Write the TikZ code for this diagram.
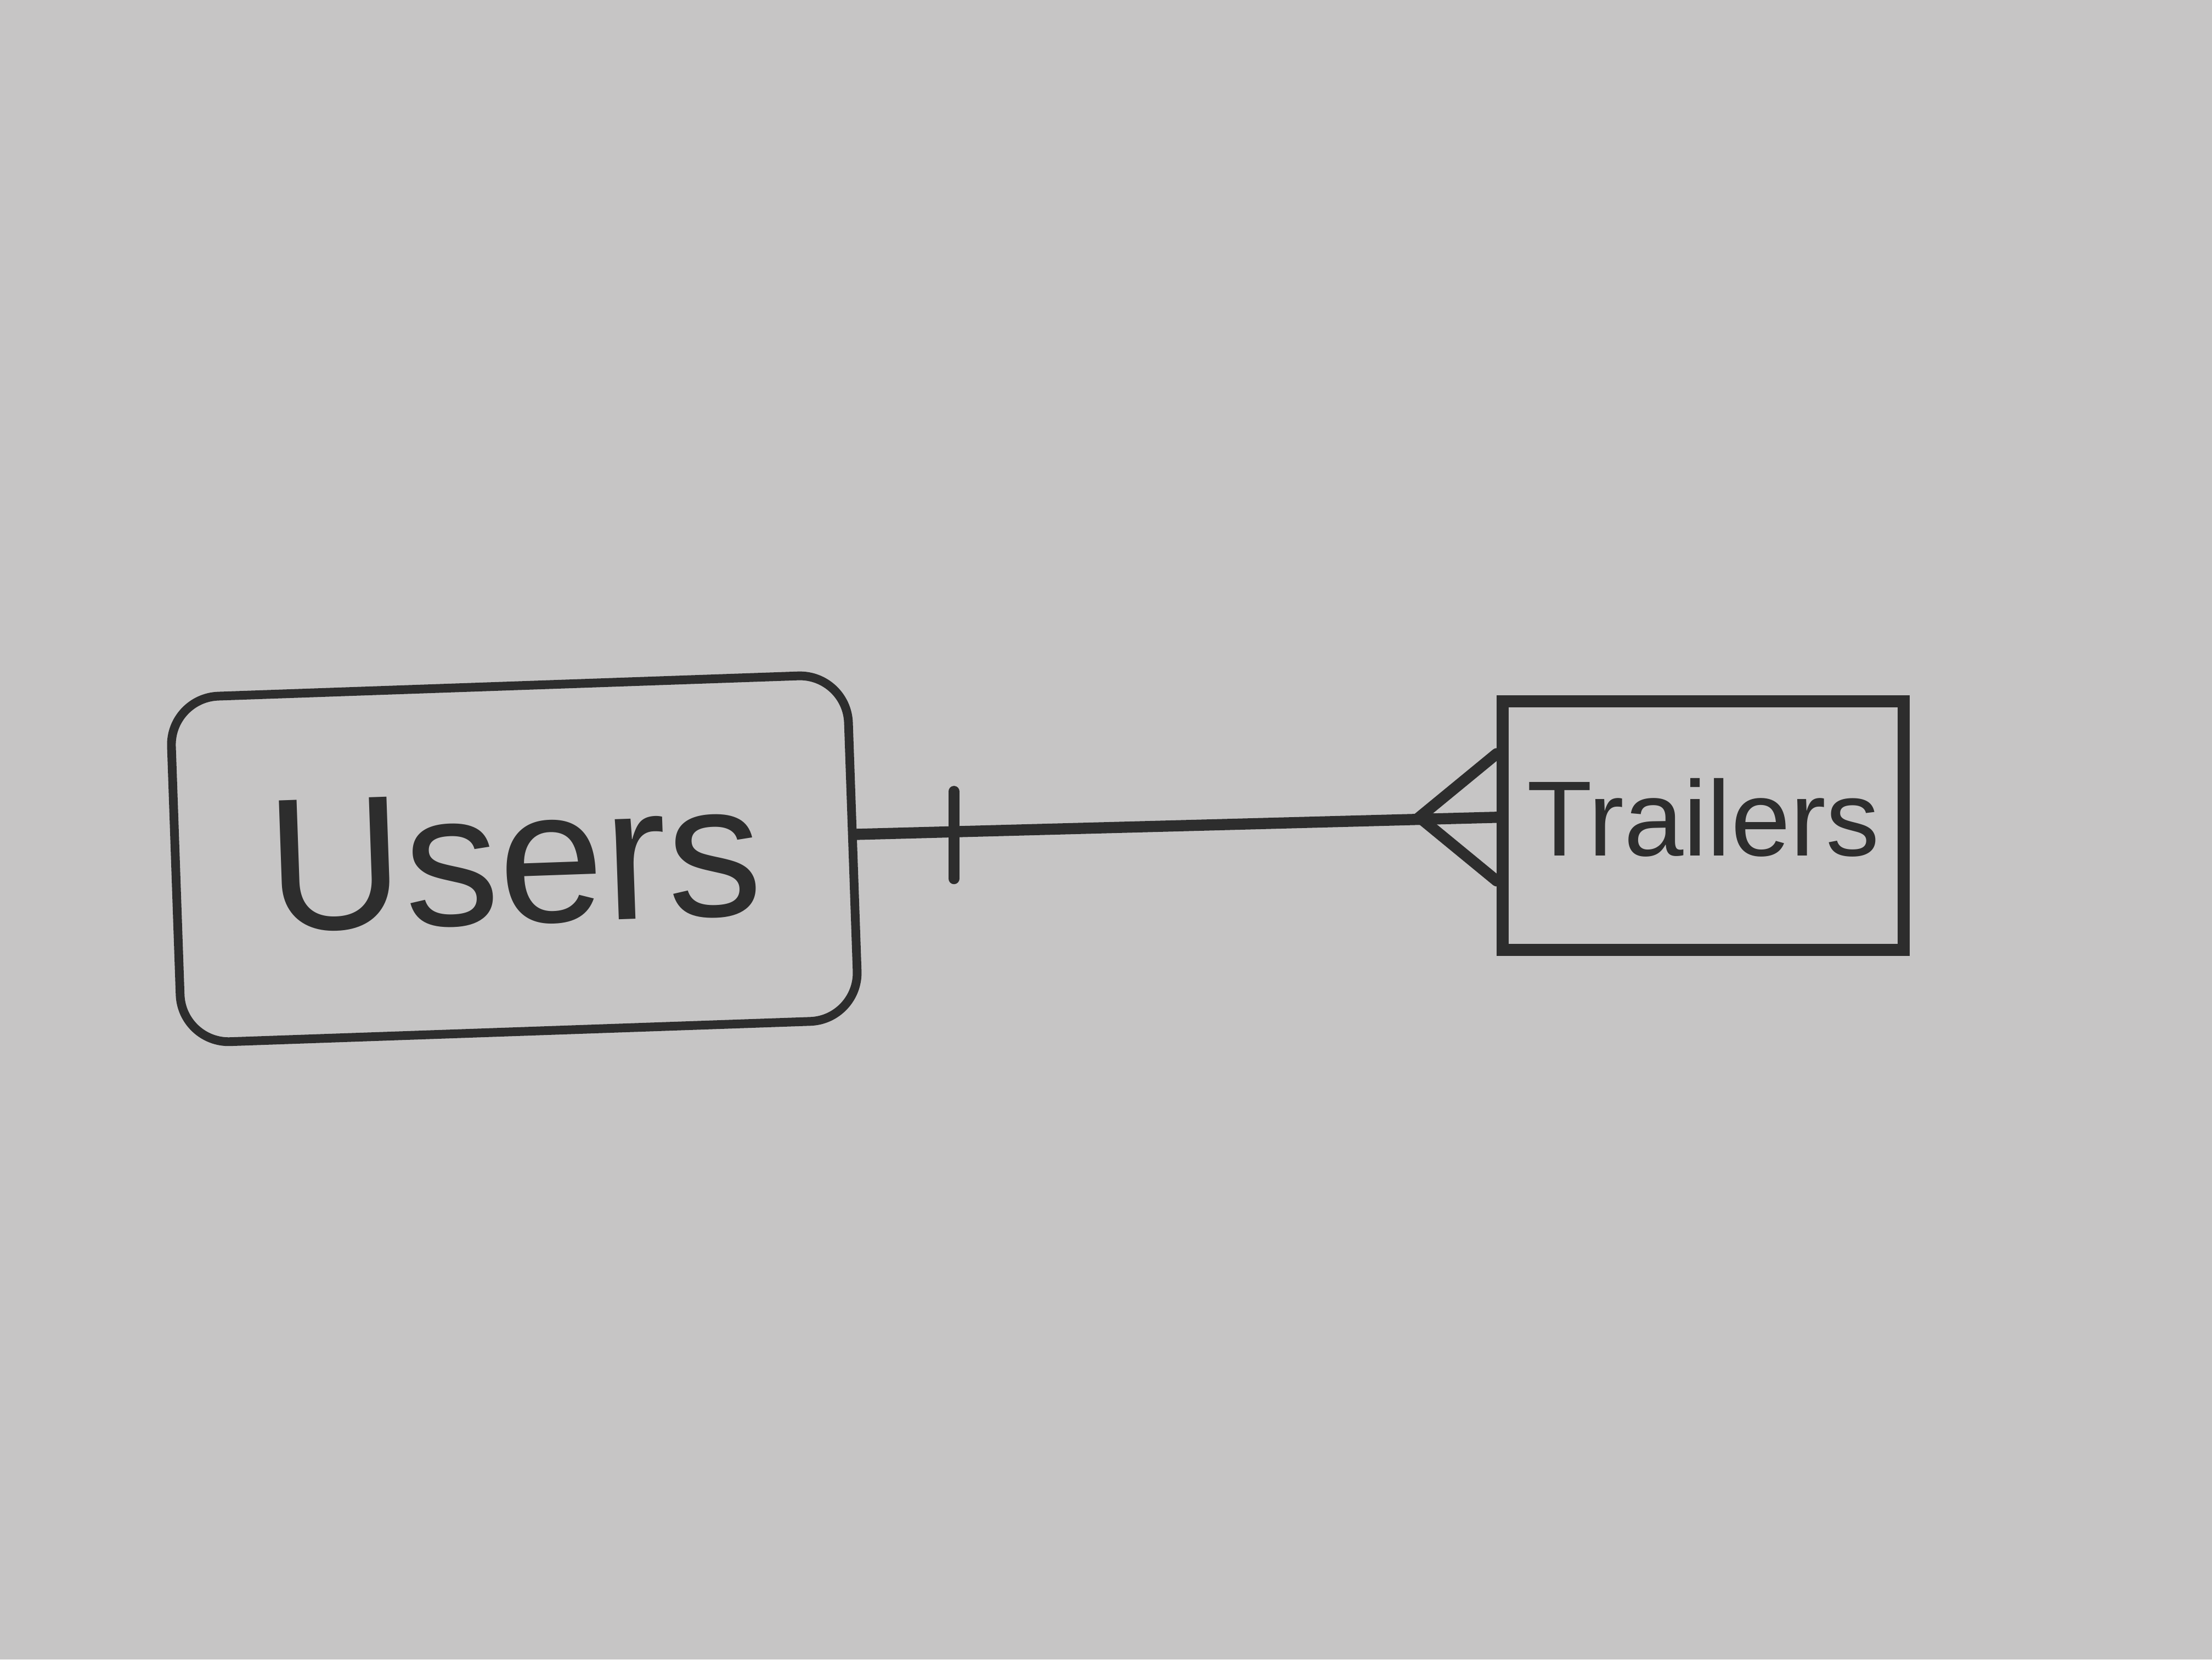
\documentclass[tikz,border=0pt]{standalone}
\usepackage{fontspec}
\setmainfont{Liberation Sans}
\usepackage{tikz}
\tikzset{>=latex}
\definecolor{board}{RGB}{198,197,197}
\definecolor{marker}{RGB}{45,45,45}

\begin{document}
\begin{tikzpicture}
      \tikzstyle{entity}=[draw=marker,text=marker,inner sep=0pt];
      \tikzstyle{er}=[draw=marker,line width=2.3pt,line cap=round];
      \fill[board](0,0) rectangle (16,12);
      \useasboundingbox (0,0) rectangle (16,12);
      \node[entity,line width=1.8pt,rounded corners=10pt,rotate=2,minimum width=4.9cm,minimum height=2.5cm,font=\fontsize{39}{44}\selectfont] (users) at (3.72,5.79) {Users};
      \node[entity,line width=2.5pt,minimum width=2.9cm,minimum height=1.8cm,font=\fontsize{22}{26}\selectfont] (trailers) at (12.32,6.03) {\raisebox{.12cm}{Trailers}};
      \coordinate (ue) at ([yshift=.09cm]users.east);
      \path ([yshift=.06cm]trailers.west) coordinate (tw) ++(-.56,0) coordinate (crow);
      \draw[er](ue)--(tw);
      \draw[er]([xshift=.7cm,yshift=.31cm]ue)--([xshift=.7cm,yshift=-.32cm]ue);
      \draw[er]([yshift=.46cm]tw)--(crow)--([yshift=-.46cm]tw);
    \end{tikzpicture}
\end{document}
